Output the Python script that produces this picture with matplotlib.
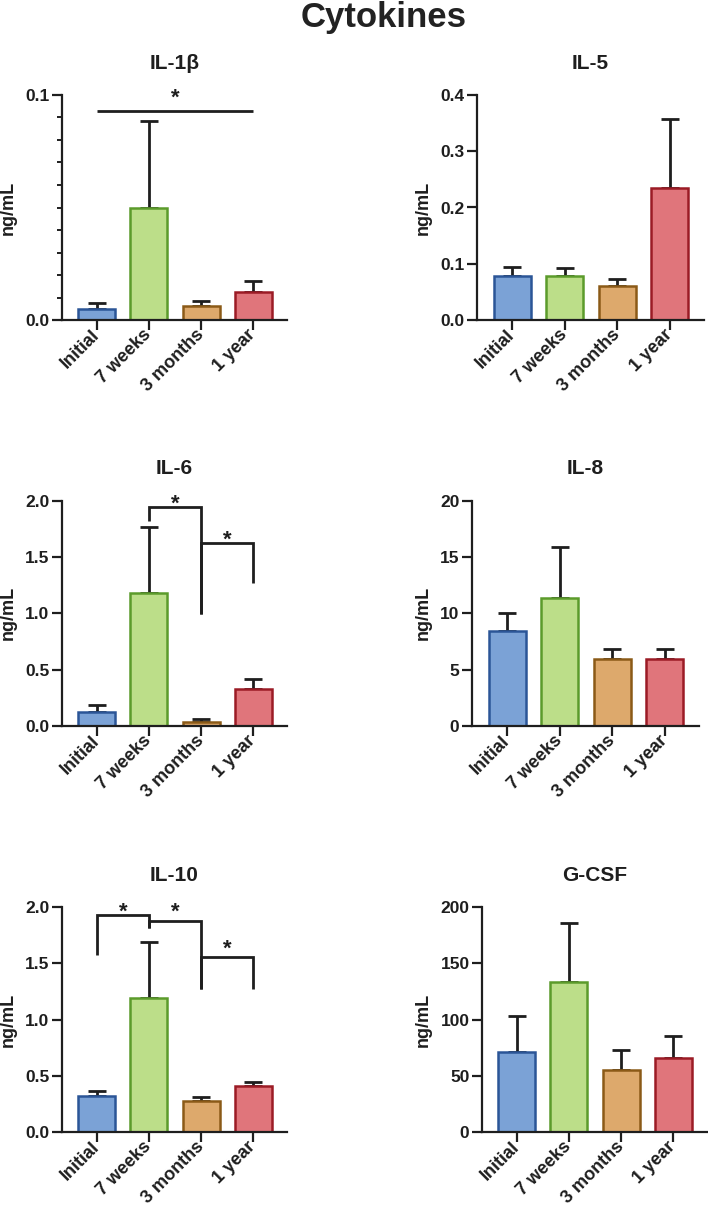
import numpy as np
import matplotlib
matplotlib.use("Agg")
import matplotlib.pyplot as plt
from matplotlib.ticker import MultipleLocator

plt.rcParams["font.family"] = ["Liberation Sans", "DejaVu Sans"]
plt.rcParams["font.weight"] = "bold"
plt.rcParams["axes.labelweight"] = "bold"
plt.rcParams["axes.titleweight"] = "bold"

INK = "#1e1e1e"

# ---- data ----
groups = ["Initial", "7 weeks", "3 months", "1 year"]
fill_colors = ["#7BA2D6", "#BCDE89", "#DDA96C", "#E0757B"]
edge_colors = ["#2B5597", "#5B9B2B", "#8B5A17", "#9B1B25"]

il1b_mean = [0.0047, 0.0499, 0.0064, 0.0123]
il1b_err = [0.0027, 0.0387, 0.0020, 0.0049]

il5_mean = [0.078, 0.078, 0.0604, 0.2353]
il5_err = [0.0168, 0.0144, 0.0131, 0.1214]

il6_mean = [0.127, 1.183, 0.033, 0.331]
il6_err = [0.059, 0.580, 0.029, 0.083]

il8_mean = [8.43, 11.36, 5.92, 5.92]
il8_err = [1.63, 4.50, 0.94, 0.94]

il10_mean = [0.319, 1.191, 0.275, 0.408]
il10_err = [0.045, 0.498, 0.032, 0.039]

gcsf_mean = [70.9, 132.9, 55.5, 66.2]
gcsf_err = [32.1, 53.1, 17.8, 19.0]

# significance brackets: (bar a, bar b, line y, leg a bottom, leg b bottom, star y)
il1b_sig = [(0, 3, 0.0927, 0.0927, 0.0927, 0.1015)]
il6_sig = [(1, 2, 1.941, 1.82, 0.994, 2.03),
           (2, 3, 1.621, 0.994, 1.272, 1.711)]
il10_sig = [(0, 1, 1.926, 1.573, 1.817, 2.015),
            (1, 2, 1.876, 1.817, 1.271, 2.015),
            (2, 3, 1.559, 1.271, 1.271, 1.69)]

W, H = 708, 1207
fig = plt.figure(figsize=(W / 100, H / 100), dpi=100)


def rect(left, right, top, bottom):
    return [left / W, 1 - bottom / H, (right - left) / W, (bottom - top) / H]


def panel(box, title, means, errs, ymax, major, fmt, minor=None, sig=()):
    ax = fig.add_axes(rect(*box))
    x = np.arange(len(groups))
    ax.errorbar(x, means, yerr=[np.zeros(len(errs)), errs], fmt="none",
                ecolor=INK, elinewidth=2.0, capsize=6.8, capthick=2.0, zorder=1)
    ax.bar(x, means, width=0.71, color=fill_colors, edgecolor=edge_colors,
           linewidth=1.8, zorder=2)
    ax.set_xlim(-0.67, 3.65)
    ax.set_ylim(0, ymax)
    ax.yaxis.set_major_locator(MultipleLocator(major))
    if minor:
        ax.yaxis.set_minor_locator(MultipleLocator(minor))
    ax.yaxis.set_major_formatter(fmt)
    for s in ["top", "right"]:
        ax.spines[s].set_visible(False)
    for s in ["left", "bottom"]:
        ax.spines[s].set_linewidth(1.6)
        ax.spines[s].set_color(INK)
    ax.tick_params(axis="both", which="major", length=7, width=1.6, color=INK,
                   labelcolor=INK, pad=2)
    ax.tick_params(axis="y", labelsize=12.5)
    ax.tick_params(axis="x", labelsize=13)
    ax.tick_params(axis="y", which="minor", length=3.8, width=1.4, color=INK)
    ax.set_xticks(x)
    ax.set_xticklabels(groups, rotation=45, ha="right", va="center",
                       rotation_mode="anchor")
    for lab in ax.get_xticklabels() + ax.get_yticklabels():
        lab.set_fontweight("bold")
    ax.set_ylabel("ng/mL", fontsize=13, color=INK, labelpad=6)
    ax.set_title(title, fontsize=15, color=INK, pad=19)

    for a, b, y, la, lb, sy in sig:
        ax.plot([a, a, b, b], [la, y, y, lb], color=INK, lw=2.0,
                solid_joinstyle="miter", solid_capstyle="butt", clip_on=False, zorder=3)
        ax.annotate("*", xy=((a + b) / 2, sy), xytext=(0, -9), textcoords="offset points",
                    ha="center", va="baseline", fontsize=16, color=INK,
                    annotation_clip=False)
    return ax


panel((62, 287, 95, 320), "IL-1β", il1b_mean, il1b_err, 0.1, 0.1, "{x:.1f}",
      minor=0.01, sig=il1b_sig)
panel((477, 704, 95, 320), "IL-5", il5_mean, il5_err, 0.4, 0.1, "{x:.1f}")
panel((62, 287, 500.7, 726), "IL-6", il6_mean, il6_err, 2.0, 0.5, "{x:.1f}", sig=il6_sig)
panel((472, 699, 500.7, 726), "IL-8", il8_mean, il8_err, 20, 5, "{x:.0f}")
panel((62, 287, 907, 1132), "IL-10", il10_mean, il10_err, 2.0, 0.5, "{x:.1f}", sig=il10_sig)
panel((482, 707, 907, 1132), "G-CSF", gcsf_mean, gcsf_err, 200, 50, "{x:.0f}")

fig.text(384 / W, 1 - 18 / H, "Cytokines", ha="center", va="center",
         fontsize=25, fontweight="bold", color="#222222")

fig.savefig("out.png", dpi=100, facecolor="white")
